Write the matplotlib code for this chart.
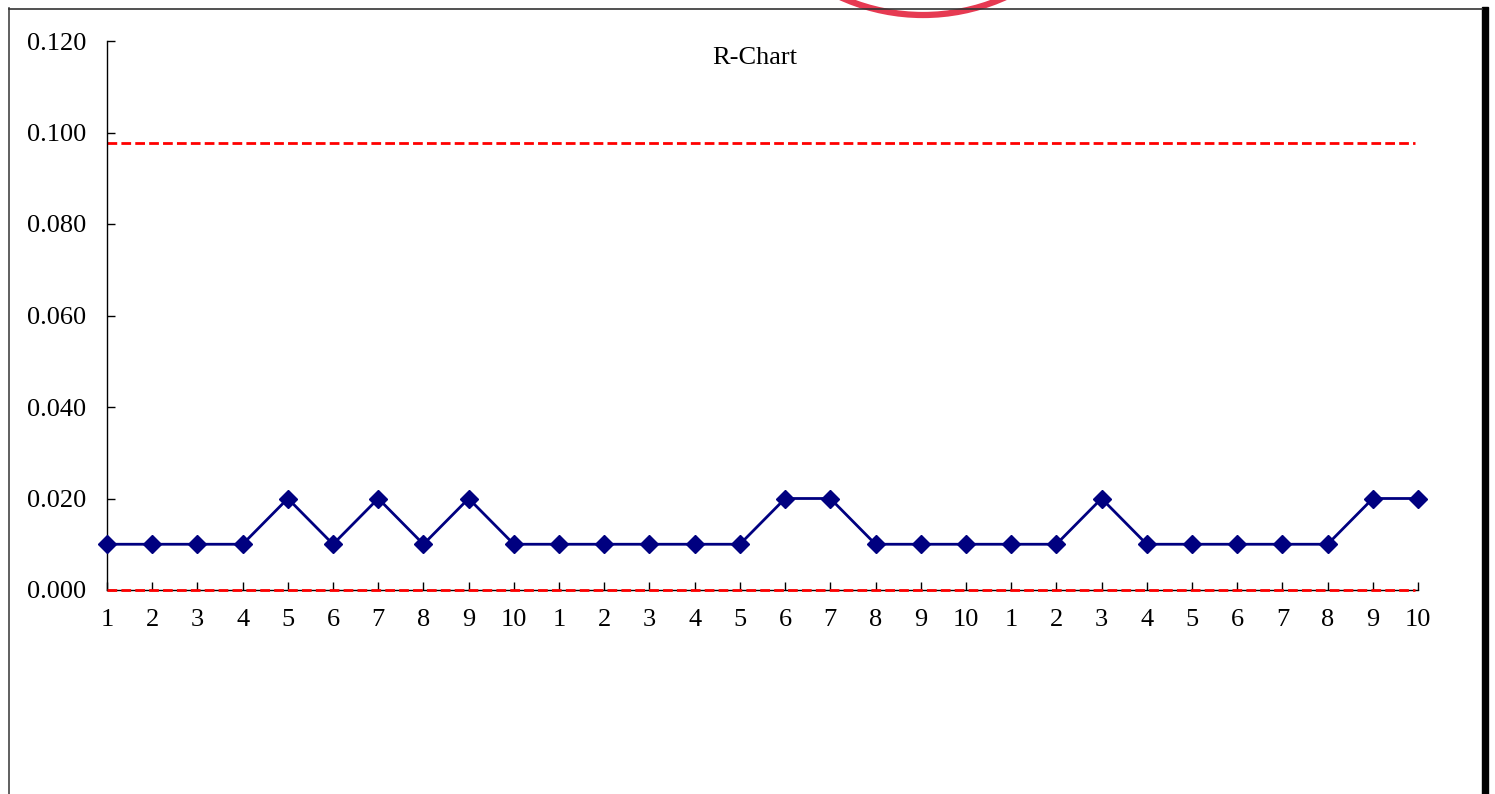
import matplotlib
matplotlib.use("Agg")
import matplotlib.pyplot as plt
from matplotlib.patches import Ellipse, Rectangle
from matplotlib.lines import Line2D

# ---- data ----
subgroup_labels = [str(i) for i in range(1, 11)] * 3
r_values = [0.01, 0.01, 0.01, 0.01, 0.02, 0.01, 0.02, 0.01, 0.02, 0.01,
            0.01, 0.01, 0.01, 0.01, 0.01, 0.02, 0.02, 0.01, 0.01, 0.01,
            0.01, 0.01, 0.02, 0.01, 0.01, 0.01, 0.01, 0.01, 0.02, 0.02]
ucl = 0.0978
lcl = 0.0
y_ticks = [0.000, 0.020, 0.040, 0.060, 0.080, 0.100, 0.120]
y_tick_labels = ["0.000", "0.020", "0.040", "0.060", "0.080", "0.100", "0.120"]
title = "R-Chart"

plt.rcParams['font.family'] = ['Liberation Serif', 'DejaVu Serif']

W, H = 1495, 794
fig = plt.figure(figsize=(W / 100, H / 100), dpi=100)
ax = fig.add_axes([107 / W, 1 - 590 / H, (1418 - 107) / W, (590 - 41) / H])

x = list(range(len(r_values)))
ax.plot([x[0], x[-1] - 0.07], [ucl, ucl], color='#ff0000', lw=2, ls=(0, (3.5, 1.5)), zorder=2, clip_on=False)
ax.plot([x[0], x[-1] - 0.07], [lcl, lcl], color='#ff0000', lw=2, ls=(0, (3.5, 1.5)), zorder=4, clip_on=False)
ax.plot(x, r_values, color='#000080', lw=2, marker='D', markersize=9.5, zorder=3, clip_on=False)

ax.set_xlim(0, len(r_values) - 1)
ax.set_ylim(0, 0.12)
ax.set_xticks(x)
ax.set_xticklabels(subgroup_labels)
ax.set_yticks(y_ticks)
ax.set_yticklabels(y_tick_labels)
for s in ['top', 'right']:
    ax.spines[s].set_visible(False)
for s in ['left', 'bottom']:
    ax.spines[s].set_linewidth(1.0)
    ax.spines[s].set_color('black')
ax.tick_params(axis='both', direction='in', length=6, width=1, labelsize=19, colors='black')
ax.tick_params(axis='x', pad=14)
ax.tick_params(axis='y', pad=15)

ax.text(0.494, 0.969, title, transform=ax.transAxes, ha='center', va='center', fontsize=19)

# frame of the screenshot
fig.add_artist(Line2D([9 / W, 9 / W], [0, 1 - 8 / H], color='#444444', lw=1.2, transform=fig.transFigure))
fig.add_artist(Line2D([9 / W, 1482 / W], [1 - 8.5 / H, 1 - 8.5 / H], color='#333333', lw=1.2, transform=fig.transFigure))
fig.add_artist(Rectangle((1482 / W, 0), 6 / W, 1 - 7 / H, color='black', transform=fig.transFigure))

# red stamp arc at top
r = 200
cx, cy = 923, -185
fig.add_artist(Ellipse((cx / W, 1 - cy / H), 2 * r / W, 2 * r / H, fill=False,
                       edgecolor='#e63a52', lw=4.5, transform=fig.transFigure, clip_on=False))

fig.savefig("out.png", dpi=100, facecolor='white')
